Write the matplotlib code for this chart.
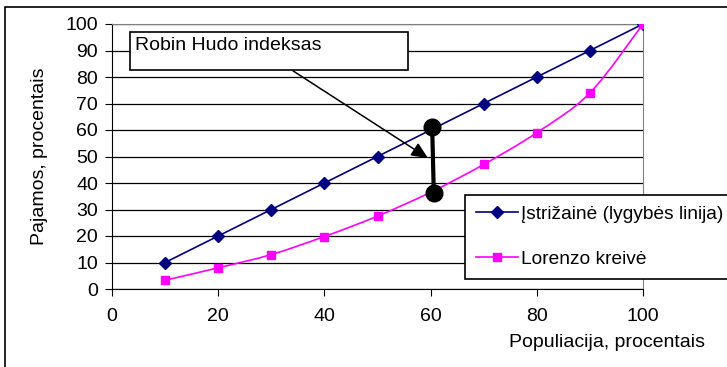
import numpy as np
import matplotlib.pyplot as plt
from matplotlib.path import Path
from matplotlib.patches import PathPatch, Rectangle

plt.rcParams['font.family'] = ['Liberation Sans', 'DejaVu Sans']

# Duomenys
populiacija = [10, 20, 30, 40, 50, 60, 70, 80, 90, 100]
istrizaine = [10, 20, 30, 40, 50, 60, 70, 80, 90, 100]
lorenzo = [3.3, 8, 13, 19.8, 27.5, 36.5, 47, 59, 74, 100]

# Robin Hudo indekso atkarpa ir rodyklė
rh_x = [60.3, 60.6]
rh_y = [61, 36.2]
rodykle_nuo = (34.1, 82.3)
rodykle_iki = (59.5, 49.4)

FS = 14


def smooth_path(xs, ys, t=1/6):
    # Excel stiliaus glotni linija (Catmull-Rom per Bezier kreives)
    pts = np.column_stack([xs, ys]).astype(float)
    verts = [pts[0]]
    codes = [Path.MOVETO]
    n = len(pts)
    for i in range(n - 1):
        p0 = pts[i - 1] if i > 0 else pts[i]
        p1 = pts[i]
        p2 = pts[i + 1]
        p3 = pts[i + 2] if i + 2 < n else pts[i + 1]
        c1 = p1 + (p2 - p0) * t
        c2 = p2 - (p3 - p1) * t
        verts += [c1, c2, p2]
        codes += [Path.CURVE4] * 3
    return Path(verts, codes)


fig = plt.figure(figsize=(7.27, 3.67), dpi=100)
fig.patches.append(Rectangle((5 / 727, -0.1), 1.2, 1 - 7 / 367 + 0.1,
                             transform=fig.transFigure, fill=False,
                             edgecolor='black', linewidth=1.2))

ax = fig.add_axes([112 / 727, 1 - 289 / 367, 531 / 727, 265 / 367])
ax.set_xlim(0, 100)
ax.set_ylim(0, 100)
ax.set_xticks(range(0, 101, 20))
ax.set_yticks(range(0, 101, 10))
ax.yaxis.grid(True, color='black', linewidth=0.9)
ax.set_axisbelow(True)
for s in ['top', 'right']:
    ax.spines[s].set_color('#808080')
ax.spines['left'].set_color('black')
ax.spines['bottom'].set_color('black')
ax.tick_params(labelsize=FS, length=5, color='black')
ax.tick_params(axis='x', pad=9)
ax.tick_params(axis='y', pad=5)

ax.plot(populiacija, istrizaine, color='#000080', linewidth=1.2, marker='D',
        markersize=6, label='Įstrižainė (lygybės linija)', zorder=3)
ax.add_patch(PathPatch(smooth_path(populiacija, lorenzo), fill=False,
                       edgecolor='#FF00FF', linewidth=1.2, zorder=3))
ax.plot(populiacija, lorenzo, color='#FF00FF', linewidth=1.2, linestyle='none',
        marker='s', markersize=6, zorder=3)
ax.plot([], [], color='#FF00FF', linewidth=1.2, marker='s', markersize=6,
        label='Lorenzo kreivė')

ax.plot(rh_x, rh_y, color='black', linewidth=3, marker='o', markersize=12,
        zorder=5, clip_on=False)

ax.annotate('', xy=rodykle_iki, xytext=rodykle_nuo,
            arrowprops=dict(arrowstyle='-|>,head_length=1.0,head_width=0.45',
                            color='black', linewidth=1.1, shrinkA=0, shrinkB=0),
            zorder=4)

# Teksto laukelis
fig.patches.append(Rectangle((130 / 727, 1 - 70 / 367), 278 / 727, 38 / 367,
                             transform=fig.transFigure, facecolor='white',
                             edgecolor='black', linewidth=1.2, zorder=3))
fig.text(135 / 727, 1 - 45 / 367, 'Robin Hudo indeksas', fontsize=FS,
         va='center', ha='left', zorder=4)

ax.set_ylabel('Pajamos, procentais', fontsize=FS)
ax.yaxis.set_label_coords(48 / 727, 1 - 156 / 367, transform=fig.transFigure)
ax.set_xlabel('Populiacija, procentais', fontsize=FS)
ax.xaxis.set_label_coords(607 / 727, 1 - 334 / 367, transform=fig.transFigure)

leg = ax.legend(loc='upper left', bbox_to_anchor=(465 / 727, 1 - 195 / 367),
                bbox_transform=fig.transFigure, fontsize=13.8, frameon=True,
                fancybox=False, framealpha=1, edgecolor='black',
                labelspacing=1.45, handlelength=2.2, handletextpad=0.15,
                borderpad=0.55, borderaxespad=0)
leg.get_frame().set_linewidth(1.2)

fig.savefig('out.png', dpi=100)
